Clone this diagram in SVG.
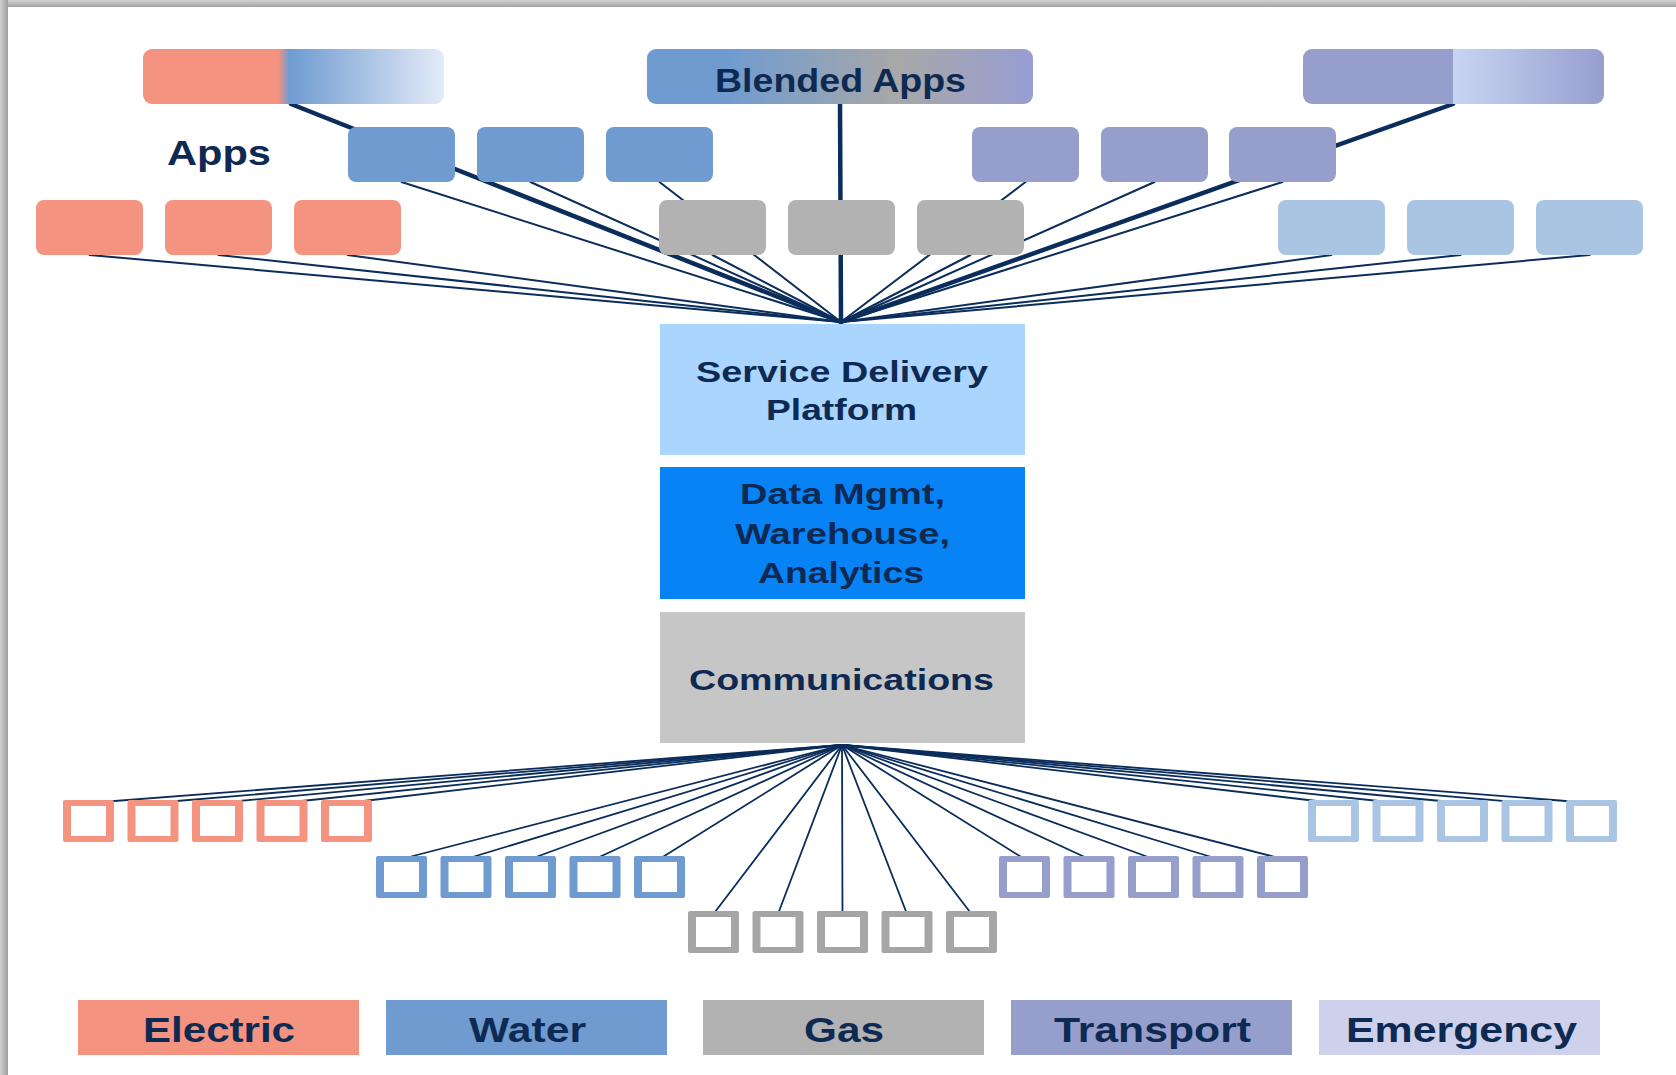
<svg xmlns="http://www.w3.org/2000/svg" xmlns:xlink="http://www.w3.org/1999/xlink" width="1676" height="1075" viewBox="0 0 1676 1075">
  <defs>
    <style>
      .lbl { font-family: "Liberation Sans", Arial, sans-serif; font-weight: bold; fill: #0e2a52; text-anchor: start; }
      .t35 { font-size: 35px; }
      .t33 { font-size: 33px; }
      .t29 { font-size: 29px; }
      .wire { stroke: #0b2d5b; fill: none; stroke-linecap: round; }
      .thin { stroke-width: 2; }
      .thick { stroke-width: 4.5; }
      .feed { stroke-width: 1.8; }
      .electric { fill: #f4937f; }
      .water { fill: #6f9bd1; }
      .gas { fill: #b2b2b2; }
      .transport { fill: #969ecb; }
      .emergency { fill: #cdd1ec; }
      .lightblue { fill: #aac4e4; }
      .sq-gas { fill: #a6a6a6; }
    </style>
    <linearGradient id="gElecWater" x1="0" y1="0" x2="1" y2="0">
      <stop offset="0" stop-color="#f4937f"/>
      <stop offset="0.45" stop-color="#f4937f"/>
      <stop offset="0.485" stop-color="#6f9bd1"/>
      <stop offset="1" stop-color="#e4ebf7"/>
    </linearGradient>
    <linearGradient id="gBlended" x1="0" y1="0" x2="1" y2="0">
      <stop offset="0" stop-color="#6f9bd1"/>
      <stop offset="0.2" stop-color="#6f9bd1"/>
      <stop offset="0.65" stop-color="#a8a8a8"/>
      <stop offset="1" stop-color="#979ed2"/>
    </linearGradient>
    <linearGradient id="gTransport" x1="0" y1="0" x2="1" y2="0">
      <stop offset="0" stop-color="#969ecb"/>
      <stop offset="0.5" stop-color="#969ecb"/>
      <stop offset="0.5" stop-color="#c7d5f2"/>
      <stop offset="1" stop-color="#969ecf"/>
    </linearGradient>
    <linearGradient id="gTop" x1="0" y1="0" x2="0" y2="1">
      <stop offset="0" stop-color="#d2d2d2"/>
      <stop offset="1" stop-color="#a2a2a2"/>
    </linearGradient>
    <linearGradient id="gLeft" x1="0" y1="0" x2="1" y2="0">
      <stop offset="0" stop-color="#d2d2d2"/>
      <stop offset="1" stop-color="#9c9c9c"/>
    </linearGradient>
    <!-- hollow sensor square: frame drawn as an even-odd ring -->
    <path id="sq" fill-rule="evenodd" d="M2,0 H49 Q51,0 51,2 V40 Q51,42 49,42 H2 Q0,42 0,40 V2 Q0,0 2,0 Z M8,6 V36 H43 V6 Z"/>
  </defs>

  <rect x="0" y="0" width="1676" height="1075" fill="#ffffff"/>
  <!-- page frame shading -->
  <rect x="0" y="0" width="1676" height="7" fill="url(#gTop)"/>
  <rect x="0" y="0" width="8" height="1075" fill="url(#gLeft)"/>

  <!-- connectors -->
  <g id="connectors">
    <g class="wire thin">
      <line x1="89.5" y1="255" x2="841" y2="322"/>
      <line x1="218.5" y1="255" x2="841" y2="322"/>
      <line x1="347.5" y1="255" x2="841" y2="322"/>
      <line x1="401.5" y1="182" x2="841" y2="322"/>
      <line x1="530.5" y1="182" x2="841" y2="322"/>
      <line x1="659.5" y1="182" x2="841" y2="322"/>
      <line x1="712.5" y1="255" x2="841" y2="322"/>
      <line x1="841.5" y1="255" x2="841" y2="322"/>
      <line x1="970.5" y1="255" x2="841" y2="322"/>
      <line x1="1025.5" y1="182" x2="841" y2="322"/>
      <line x1="1154.5" y1="182" x2="841" y2="322"/>
      <line x1="1282.5" y1="182" x2="841" y2="322"/>
      <line x1="1331.5" y1="255" x2="841" y2="322"/>
      <line x1="1460.5" y1="255" x2="841" y2="322"/>
      <line x1="1589.5" y1="255" x2="841" y2="322"/>
    </g>
    <g class="wire thick">
      <line x1="291" y1="104" x2="841" y2="322"/>
      <line x1="840" y1="104" x2="841" y2="322"/>
      <line x1="1453" y1="104" x2="841" y2="322"/>
    </g>
    <g class="wire feed">
      <!-- electric -->
      <line x1="842" y1="745" x2="88.5" y2="803"/>
      <line x1="842" y1="745" x2="153" y2="803"/>
      <line x1="842" y1="745" x2="217.5" y2="803"/>
      <line x1="842" y1="745" x2="282" y2="803"/>
      <line x1="842" y1="745" x2="346.5" y2="803"/>
      <!-- water -->
      <line x1="842" y1="745" x2="401.5" y2="859"/>
      <line x1="842" y1="745" x2="466" y2="859"/>
      <line x1="842" y1="745" x2="530.5" y2="859"/>
      <line x1="842" y1="745" x2="595" y2="859"/>
      <line x1="842" y1="745" x2="659.5" y2="859"/>
      <!-- gas -->
      <line x1="842" y1="745" x2="713.5" y2="914"/>
      <line x1="842" y1="745" x2="778" y2="914"/>
      <line x1="842" y1="745" x2="842.5" y2="914"/>
      <line x1="842" y1="745" x2="907" y2="914"/>
      <line x1="842" y1="745" x2="971.5" y2="914"/>
      <!-- transport -->
      <line x1="842" y1="745" x2="1024.5" y2="859"/>
      <line x1="842" y1="745" x2="1089" y2="859"/>
      <line x1="842" y1="745" x2="1153.5" y2="859"/>
      <line x1="842" y1="745" x2="1218" y2="859"/>
      <line x1="842" y1="745" x2="1282.5" y2="859"/>
      <!-- emergency -->
      <line x1="842" y1="745" x2="1333.5" y2="803"/>
      <line x1="842" y1="745" x2="1398" y2="803"/>
      <line x1="842" y1="745" x2="1462.5" y2="803"/>
      <line x1="842" y1="745" x2="1527" y2="803"/>
      <line x1="842" y1="745" x2="1591.5" y2="803"/>
    </g>
  </g>

  <!-- blended application bars -->
  <g id="blend-electric-water"><rect x="143" y="49" width="301" height="55" rx="9" fill="url(#gElecWater)"/></g>
  <g id="blended-apps">
    <rect x="647" y="49" width="386" height="55" rx="9" fill="url(#gBlended)"/>
    <text class="lbl t33" x="715" y="92" textLength="251" lengthAdjust="spacingAndGlyphs">Blended Apps</text>
  </g>
  <g id="blend-transport"><rect x="1303" y="49" width="301" height="55" rx="9" fill="url(#gTransport)"/></g>

  <g id="apps-label"><text class="lbl t35" x="167" y="165" textLength="104" lengthAdjust="spacingAndGlyphs">Apps</text></g>

  <!-- single-domain apps, second row -->
  <g id="app-water-1"><rect class="water" x="348" y="127" width="107" height="55" rx="8"/></g>
  <g id="app-water-2"><rect class="water" x="477" y="127" width="107" height="55" rx="8"/></g>
  <g id="app-water-3"><rect class="water" x="606" y="127" width="107" height="55" rx="8"/></g>
  <g id="app-transport-1"><rect class="transport" x="972" y="127" width="107" height="55" rx="8"/></g>
  <g id="app-transport-2"><rect class="transport" x="1101" y="127" width="107" height="55" rx="8"/></g>
  <g id="app-transport-3"><rect class="transport" x="1229" y="127" width="107" height="55" rx="8"/></g>

  <!-- single-domain apps, third row -->
  <g id="app-electric-1"><rect class="electric" x="36" y="200" width="107" height="55" rx="8"/></g>
  <g id="app-electric-2"><rect class="electric" x="165" y="200" width="107" height="55" rx="8"/></g>
  <g id="app-electric-3"><rect class="electric" x="294" y="200" width="107" height="55" rx="8"/></g>
  <g id="app-gas-1"><rect class="gas" x="659" y="200" width="107" height="55" rx="8"/></g>
  <g id="app-gas-2"><rect class="gas" x="788" y="200" width="107" height="55" rx="8"/></g>
  <g id="app-gas-3"><rect class="gas" x="917" y="200" width="107" height="55" rx="8"/></g>
  <g id="app-emergency-1"><rect class="lightblue" x="1278" y="200" width="107" height="55" rx="8"/></g>
  <g id="app-emergency-2"><rect class="lightblue" x="1407" y="200" width="107" height="55" rx="8"/></g>
  <g id="app-emergency-3"><rect class="lightblue" x="1536" y="200" width="107" height="55" rx="8"/></g>

  <!-- platform stack -->
  <g id="service-delivery">
    <rect x="660" y="324" width="365" height="131" fill="#a9d5ff"/>
    <text class="lbl t29" x="696" y="382" textLength="292" lengthAdjust="spacingAndGlyphs">Service Delivery</text>
    <text class="lbl t29" x="766" y="420" textLength="151" lengthAdjust="spacingAndGlyphs">Platform</text>
  </g>
  <g id="data-mgmt">
    <rect x="660" y="467" width="365" height="132" fill="#0783f6"/>
    <text class="lbl t29" x="740" y="504" textLength="205" lengthAdjust="spacingAndGlyphs">Data Mgmt,</text>
    <text class="lbl t29" x="735" y="544" textLength="215" lengthAdjust="spacingAndGlyphs">Warehouse,</text>
    <text class="lbl t29" x="758" y="583" textLength="166" lengthAdjust="spacingAndGlyphs">Analytics</text>
  </g>
  <g id="communications">
    <rect x="660" y="612" width="365" height="131" fill="#c6c6c6"/>
    <text class="lbl t29" x="689" y="690" textLength="305" lengthAdjust="spacingAndGlyphs">Communications</text>
  </g>

  <!-- field devices -->
  <g id="devices-electric" class="electric">
    <use xlink:href="#sq" x="63" y="800"/>
    <use xlink:href="#sq" x="127.5" y="800"/>
    <use xlink:href="#sq" x="192" y="800"/>
    <use xlink:href="#sq" x="256.5" y="800"/>
    <use xlink:href="#sq" x="321" y="800"/>
  </g>
  <g id="devices-water" class="water">
    <use xlink:href="#sq" x="376" y="856"/>
    <use xlink:href="#sq" x="440.5" y="856"/>
    <use xlink:href="#sq" x="505" y="856"/>
    <use xlink:href="#sq" x="569.5" y="856"/>
    <use xlink:href="#sq" x="634" y="856"/>
  </g>
  <g id="devices-gas" class="sq-gas">
    <use xlink:href="#sq" x="688" y="911"/>
    <use xlink:href="#sq" x="752.5" y="911"/>
    <use xlink:href="#sq" x="817" y="911"/>
    <use xlink:href="#sq" x="881.5" y="911"/>
    <use xlink:href="#sq" x="946" y="911"/>
  </g>
  <g id="devices-transport" class="transport">
    <use xlink:href="#sq" x="999" y="856"/>
    <use xlink:href="#sq" x="1063.5" y="856"/>
    <use xlink:href="#sq" x="1128" y="856"/>
    <use xlink:href="#sq" x="1192.5" y="856"/>
    <use xlink:href="#sq" x="1257" y="856"/>
  </g>
  <g id="devices-emergency" class="lightblue">
    <use xlink:href="#sq" x="1308" y="800"/>
    <use xlink:href="#sq" x="1372.5" y="800"/>
    <use xlink:href="#sq" x="1437" y="800"/>
    <use xlink:href="#sq" x="1501.5" y="800"/>
    <use xlink:href="#sq" x="1566" y="800"/>
  </g>

  <!-- legend -->
  <g id="legend-electric">
    <rect class="electric" x="78" y="1000" width="281" height="55"/>
    <text class="lbl t35" x="143" y="1042" textLength="152" lengthAdjust="spacingAndGlyphs">Electric</text>
  </g>
  <g id="legend-water">
    <rect class="water" x="386" y="1000" width="281" height="55"/>
    <text class="lbl t35" x="469" y="1042" textLength="117" lengthAdjust="spacingAndGlyphs">Water</text>
  </g>
  <g id="legend-gas">
    <rect class="gas" x="703" y="1000" width="281" height="55"/>
    <text class="lbl t35" x="804" y="1042" textLength="80" lengthAdjust="spacingAndGlyphs">Gas</text>
  </g>
  <g id="legend-transport">
    <rect class="transport" x="1011" y="1000" width="281" height="55"/>
    <text class="lbl t35" x="1054" y="1042" textLength="197" lengthAdjust="spacingAndGlyphs">Transport</text>
  </g>
  <g id="legend-emergency">
    <rect class="emergency" x="1319" y="1000" width="281" height="55"/>
    <text class="lbl t35" x="1346" y="1042" textLength="231" lengthAdjust="spacingAndGlyphs">Emergency</text>
  </g>
</svg>
